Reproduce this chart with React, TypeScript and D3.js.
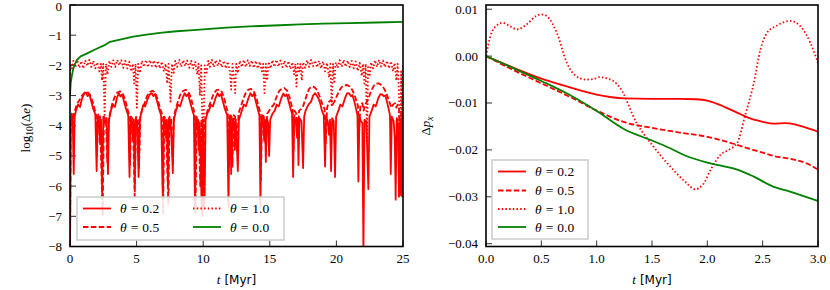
import React from 'react';
import * as d3 from 'd3';

// ---- left panel: log10(delta e) vs t ----
const eccTicksX = [0, 5, 10, 15, 20, 25];
const eccTicksY = [0, -1, -2, -3, -4, -5, -6, -7, -8];

// theta = 0.2 (solid red)
const eccTheta02: [number, number][] = [
  [0.0, -8.2], [0.06, -3.9], [0.14, -3.6], [0.2, -3.7], [0.28, -5.6], [0.35, -3.7], [0.45, -3.5], [0.6, -3.3], [0.75, -3.38], [0.9, -3.1], [1.05, -2.95], [1.2, -2.9], [1.32, -3.02], [1.45, -2.95], [1.6, -3.2], [1.75, -3.45], [1.9, -3.62], [2.0, -5.5], [2.08, -3.7], [2.18, -3.85], [2.26, -4.6], [2.33, -3.8], [2.42, -6.3], [2.5, -3.7], [2.62, -3.9], [2.75, -3.75], [2.85, -5.6], [2.93, -3.8],
  [3.07, -3.5], [3.22, -3.3], [3.37, -3.38], [3.52, -3.08], [3.67, -2.93], [3.79, -3.03], [3.92, -2.96], [4.07, -3.22], [4.22, -3.46], [4.37, -3.65], [4.47, -5.7], [4.55, -3.7], [4.65, -3.85], [4.73, -4.5], [4.79, -3.8], [4.86, -6.05], [4.94, -3.75], [5.05, -3.9], [5.15, -5.7], [5.24, -3.8], [5.34, -3.6],
  [5.49, -3.32], [5.64, -3.36], [5.84, -3.1], [5.99, -2.96], [6.14, -2.92], [6.26, -3.02], [6.39, -2.95], [6.54, -3.2], [6.69, -3.45], [6.84, -3.65], [6.97, -6.4], [7.05, -3.7], [7.15, -3.85], [7.22, -4.4], [7.28, -3.8], [7.35, -6.05], [7.43, -3.75], [7.55, -3.9], [7.64, -4.6], [7.72, -5.57], [7.8, -3.8],
  [7.96, -3.5], [8.11, -3.3], [8.26, -3.36], [8.46, -3.08], [8.61, -2.92], [8.73, -3.02], [8.86, -2.95], [9.01, -3.2], [9.16, -3.45], [9.3, -3.65], [9.38, -6.7], [9.46, -3.7], [9.58, -3.85], [9.66, -4.8], [9.73, -3.9], [9.82, -5.2], [9.88, -6.7], [9.95, -3.8], [10.02, -4.9], [10.1, -6.6], [10.18, -3.8], [10.3, -3.6],
  [10.43, -3.5], [10.58, -3.3], [10.73, -3.36], [10.93, -3.08], [11.08, -2.92], [11.2, -3.02], [11.33, -2.95], [11.48, -3.2], [11.63, -3.45], [11.8, -3.65], [11.9, -6.7], [11.98, -3.7], [12.05, -3.9], [12.1, -5.6], [12.18, -3.8], [12.3, -3.85], [12.38, -4.8], [12.45, -3.8], [12.6, -5.5], [12.68, -3.8],
  [12.9, -3.5], [13.05, -3.3], [13.2, -3.36], [13.4, -3.08], [13.55, -2.92], [13.67, -3.02], [13.8, -2.95], [13.95, -3.2], [14.1, -3.45], [14.22, -3.65], [14.3, -6.7], [14.38, -3.7], [14.5, -3.85], [14.58, -4.5], [14.64, -3.8], [14.7, -5.2], [14.78, -3.75], [14.87, -3.9], [14.95, -5.0], [15.03, -3.8], [15.2, -3.6],
  [15.37, -3.5], [15.52, -3.3], [15.67, -3.36], [15.87, -3.08], [16.02, -2.93], [16.14, -3.02], [16.27, -2.96], [16.42, -3.2], [16.57, -3.45], [16.67, -3.6], [16.75, -5.7], [16.83, -3.7], [16.95, -3.85], [17.05, -4.4], [17.1, -3.8], [17.15, -5.3], [17.23, -3.75], [17.38, -3.85], [17.5, -5.4], [17.58, -3.7],
  [17.7, -3.48], [17.9, -3.3], [18.1, -3.2], [18.25, -3.0], [18.4, -2.92], [18.52, -3.0], [18.65, -3.09], [18.78, -3.25], [18.9, -3.48], [19.05, -3.65], [19.15, -5.35], [19.23, -3.7], [19.35, -3.85], [19.45, -4.3], [19.52, -3.8], [19.6, -5.5], [19.68, -3.75], [19.8, -3.85], [19.9, -5.7], [19.98, -3.7],
  [20.15, -3.5], [20.3, -3.3], [20.45, -3.36], [20.65, -3.08], [20.8, -2.93], [20.95, -2.92], [21.08, -3.02], [21.2, -2.98], [21.35, -3.2], [21.48, -3.45], [21.58, -3.65], [21.65, -5.85], [21.73, -3.7], [21.85, -3.85], [21.95, -3.9], [22.03, -8.3], [22.11, -3.8], [22.25, -3.85], [22.4, -6.1], [22.48, -3.7],
  [22.65, -3.5], [22.8, -3.3], [22.95, -3.36], [23.15, -3.08], [23.3, -2.95], [23.43, -2.96], [23.55, -3.02], [23.68, -3.0], [23.82, -3.25], [23.95, -3.5], [24.02, -3.65], [24.08, -5.6], [24.16, -3.7], [24.3, -3.85], [24.38, -4.4], [24.45, -6.45], [24.53, -3.75], [24.62, -3.9], [24.7, -6.35], [24.78, -3.8], [24.84, -3.9], [24.9, -6.2], [24.96, -3.8], [25.0, -3.7],
];

// theta = 0.5 (dashed red)
const eccTheta05: [number, number][] = [
  [0.0, -8.2], [0.06, -4.2], [0.15, -3.9], [0.3, -3.6], [0.5, -3.3], [0.7, -3.15], [0.9, -3.0], [1.1, -2.9], [1.3, -2.88], [1.5, -2.98], [1.7, -3.2], [1.85, -3.45], [1.95, -3.6], [2.03, -5.0], [2.12, -3.6], [2.25, -3.7], [2.45, -7.0], [2.55, -3.7], [2.7, -3.8], [2.8, -5.2], [2.9, -3.8], [3.0, -3.6],
  [3.15, -3.3], [3.35, -3.05], [3.55, -2.9], [3.75, -2.86], [3.95, -2.92], [4.15, -3.15], [4.32, -3.45], [4.42, -3.6], [4.5, -5.3], [4.6, -3.7], [4.72, -3.8], [4.86, -6.35], [4.96, -3.7], [5.1, -3.8], [5.18, -5.4], [5.28, -3.7], [5.4, -3.5],
  [5.6, -3.25], [5.8, -3.0], [6.0, -2.88], [6.2, -2.84], [6.4, -2.9], [6.6, -3.15], [6.78, -3.45], [6.9, -3.6], [6.99, -6.9], [7.08, -3.7], [7.2, -3.8], [7.38, -6.6], [7.48, -3.7], [7.6, -3.8], [7.7, -5.0], [7.8, -3.7], [7.9, -3.5],
  [8.1, -3.2], [8.3, -2.95], [8.5, -2.84], [8.7, -2.81], [8.9, -2.88], [9.1, -3.1], [9.25, -3.4], [9.35, -3.6], [9.42, -6.9], [9.52, -3.7], [9.65, -3.85], [9.78, -6.0], [9.86, -3.8], [9.94, -7.0], [10.0, -3.8], [10.06, -6.8], [10.14, -3.8], [10.25, -3.6], [10.4, -3.4],
  [10.6, -3.15], [10.8, -2.92], [11.0, -2.82], [11.2, -2.8], [11.4, -2.88], [11.58, -3.1], [11.75, -3.4], [11.85, -3.55], [11.93, -5.4], [12.02, -3.6], [12.13, -3.7], [12.2, -5.35], [12.28, -3.65], [12.4, -3.7], [12.55, -4.9], [12.65, -3.6], [12.8, -3.4],
  [13.0, -3.12], [13.2, -2.9], [13.4, -2.8], [13.6, -2.78], [13.8, -2.86], [14.0, -3.08], [14.15, -3.35], [14.25, -3.5], [14.33, -5.8], [14.42, -3.6], [14.55, -3.7], [14.72, -4.8], [14.8, -3.6], [14.95, -3.5], [15.1, -3.4], [15.3, -3.3],
  [15.5, -3.05], [15.7, -2.85], [15.9, -2.77], [16.1, -2.75], [16.3, -2.84], [16.48, -3.05], [16.62, -3.3], [16.72, -3.45], [16.78, -4.8], [16.86, -3.5], [17.0, -3.6], [17.12, -4.3], [17.2, -3.5], [17.35, -3.45], [17.5, -3.35],
  [17.65, -3.15], [17.8, -2.95], [17.95, -2.78], [18.15, -2.7], [18.35, -2.72], [18.55, -2.82], [18.72, -3.0], [18.88, -3.2], [19.0, -3.35], [19.12, -3.45], [19.2, -4.6], [19.3, -3.4], [19.45, -3.2], [19.6, -3.15], [19.72, -3.3], [19.85, -3.2], [20.0, -3.05],
  [20.2, -2.85], [20.4, -2.72], [20.6, -2.66], [20.8, -2.65], [21.0, -2.7], [21.2, -2.82], [21.38, -3.0], [21.52, -3.2], [21.62, -3.35], [21.7, -4.3], [21.8, -3.3], [21.95, -3.25], [22.05, -3.5], [22.15, -3.3], [22.3, -3.2], [22.45, -3.05],
  [22.6, -2.85], [22.8, -2.68], [23.0, -2.6], [23.2, -2.6], [23.4, -2.66], [23.6, -2.78], [23.8, -2.98], [23.95, -3.18], [24.05, -3.3], [24.15, -3.4], [24.25, -3.3], [24.4, -3.25], [24.5, -3.4], [24.6, -3.3], [24.7, -3.4], [24.78, -6.3], [24.86, -3.5], [24.93, -6.4], [25.0, -3.6],
];

// theta = 1.0 (dotted red)
const eccTheta10: [number, number][] = [
  [0.0, -2.3], [0.05, -1.95], [0.15, -2.1], [0.25, -1.85], [0.4, -2.05], [0.55, -1.83], [0.7, -2.08], [0.85, -1.86], [1.0, -2.1], [1.15, -1.84], [1.3, -2.02], [1.45, -1.82], [1.6, -2.05], [1.75, -1.85], [1.9, -2.1], [2.05, -1.9], [2.2, -2.2], [2.32, -1.95], [2.4, -2.5], [2.5, -1.95], [2.6, -3.64], [2.7, -1.95], [2.82, -2.3], [2.95, -1.85],
  [3.1, -2.05], [3.25, -1.83], [3.4, -2.05], [3.55, -1.82], [3.7, -2.0], [3.85, -1.83], [4.0, -2.08], [4.15, -1.85], [4.3, -2.1], [4.45, -1.88], [4.6, -2.2], [4.72, -1.95], [4.82, -2.6], [4.92, -1.95], [5.02, -3.4], [5.12, -1.95], [5.25, -2.25], [5.4, -1.85],
  [5.55, -2.05], [5.7, -1.82], [5.85, -2.06], [6.0, -1.83], [6.15, -2.02], [6.3, -1.84], [6.45, -2.08], [6.6, -1.85], [6.75, -2.1], [6.9, -1.88], [7.05, -2.2], [7.18, -1.95], [7.3, -2.6], [7.4, -1.95], [7.55, -3.2], [7.65, -1.95], [7.78, -2.25], [7.9, -1.85],
  [8.05, -2.05], [8.2, -1.82], [8.35, -2.05], [8.5, -1.83], [8.65, -2.02], [8.8, -1.84], [8.95, -2.08], [9.1, -1.85], [9.25, -2.1], [9.4, -1.88], [9.55, -2.3], [9.65, -1.95], [9.75, -3.0], [9.85, -2.0], [9.95, -4.2], [10.0, -6.6], [10.05, -3.5], [10.12, -2.0], [10.25, -2.3], [10.38, -1.85],
  [10.5, -2.05], [10.65, -1.82], [10.8, -2.05], [10.95, -1.83], [11.1, -2.02], [11.25, -1.84], [11.4, -2.06], [11.55, -1.85], [11.7, -2.1], [11.85, -1.88], [12.0, -2.2], [12.1, -2.8], [12.2, -1.95], [12.3, -2.4], [12.4, -2.92], [12.48, -1.95], [12.6, -2.25], [12.75, -1.85],
  [12.9, -2.05], [13.05, -1.82], [13.2, -2.05], [13.35, -1.83], [13.5, -2.02], [13.65, -1.84], [13.8, -2.08], [13.95, -1.85], [14.1, -2.1], [14.25, -1.88], [14.4, -2.2], [14.5, -1.95], [14.6, -2.92], [14.7, -1.95], [14.8, -2.5], [14.92, -1.88],
  [15.05, -2.1], [15.2, -1.83], [15.35, -2.05], [15.5, -1.82], [15.65, -2.04], [15.8, -1.84], [15.95, -2.06], [16.1, -1.85], [16.25, -2.08], [16.4, -1.86], [16.55, -2.12], [16.7, -1.9], [16.82, -2.3], [16.92, -1.95], [17.0, -2.7], [17.1, -1.95], [17.2, -2.2], [17.3, -1.95], [17.4, -2.5], [17.5, -1.9],
  [17.65, -2.08], [17.8, -1.83], [17.95, -2.05], [18.1, -1.82], [18.25, -2.03], [18.4, -1.84], [18.55, -2.06], [18.7, -1.85], [18.85, -2.1], [19.0, -1.87], [19.15, -2.2], [19.3, -1.92], [19.45, -2.4], [19.55, -1.95], [19.65, -3.37], [19.75, -1.95], [19.85, -2.6], [19.95, -1.9],
  [20.1, -2.08], [20.25, -1.83], [20.4, -2.05], [20.55, -1.82], [20.7, -2.04], [20.85, -1.84], [21.0, -2.06], [21.15, -1.85], [21.3, -2.1], [21.45, -1.87], [21.6, -2.18], [21.75, -1.92], [21.9, -2.35], [22.0, -1.95], [22.1, -2.6], [22.2, -1.95], [22.3, -4.5], [22.38, -2.0], [22.5, -2.37], [22.6, -1.9],
  [22.75, -2.1], [22.9, -1.83], [23.05, -2.05], [23.2, -1.82], [23.35, -2.04], [23.5, -1.84], [23.65, -2.06], [23.8, -1.85], [23.95, -2.1], [24.1, -1.87], [24.25, -2.2], [24.38, -1.92], [24.5, -2.5], [24.6, -1.95], [24.7, -2.9], [24.8, -6.3], [24.86, -2.2], [24.93, -5.5], [25.0, -2.0],
];

// theta = 0.0 (green)
const eccTheta00: [number, number][] = [
  [0, -3.0], [0.05, -2.6], [0.12, -2.39], [0.25, -2.1], [0.5, -1.83], [0.8, -1.7], [1.25, -1.61], [2.0, -1.45], [2.6, -1.33], [3.0, -1.22],
  [4.0, -1.12], [4.75, -1.05], [5.75, -0.98], [6.75, -0.92], [8.0, -0.87], [9.25, -0.83], [10.5, -0.79], [11.75, -0.75], [13.5, -0.71],
  [15.75, -0.67], [17.25, -0.64], [19.0, -0.62], [21.0, -0.6], [23.0, -0.58], [25.0, -0.56],
];

// ---- right panel: delta p_x vs t ----
const momTicksX = [0, 0.5, 1, 1.5, 2, 2.5, 3];
const momTicksY = [0.01, 0, -0.01, -0.02, -0.03, -0.04];

const momTheta02: [number, number][] = [
  [0, 0], [0.25, -0.0025], [0.5, -0.0048], [0.75, -0.0066], [1.0, -0.0082], [1.25, -0.009], [1.5, -0.0091], [1.75, -0.0091],
  [1.9, -0.0092], [2.0, -0.0095], [2.1, -0.0103], [2.2, -0.0113], [2.3, -0.0124], [2.4, -0.0134], [2.5, -0.014], [2.6, -0.0144],
  [2.7, -0.0143], [2.8, -0.0146], [2.9, -0.0153], [3.0, -0.0161],
];
const momTheta05: [number, number][] = [
  [0, 0], [0.25, -0.003], [0.5, -0.0058], [0.75, -0.0086], [1.0, -0.0116], [1.25, -0.0141], [1.5, -0.0153], [1.75, -0.0163],
  [2.0, -0.0172], [2.25, -0.0188], [2.4, -0.0199], [2.5, -0.0206], [2.6, -0.0213], [2.75, -0.0219], [2.9, -0.0229], [3.0, -0.0242],
];
const momTheta10: [number, number][] = [
  [0, 0], [0.04, 0.0043], [0.1, 0.0066], [0.15, 0.0071], [0.2, 0.0066], [0.28, 0.0057], [0.37, 0.0068], [0.45, 0.0085], [0.5, 0.0089],
  [0.55, 0.0085], [0.64, 0.005], [0.73, -0.0014], [0.8, -0.004], [0.9, -0.005], [0.97, -0.0049], [1.03, -0.0045], [1.1, -0.0048],
  [1.15, -0.0053], [1.21, -0.0067], [1.36, -0.0142], [1.51, -0.0192], [1.66, -0.0234], [1.81, -0.027], [1.89, -0.0284], [1.96, -0.0274],
  [2.04, -0.0238], [2.12, -0.021], [2.2, -0.0199], [2.27, -0.0185], [2.34, -0.0128], [2.42, -0.0057], [2.48, 0.0014], [2.54, 0.005],
  [2.62, 0.0064], [2.75, 0.0075], [2.84, 0.0064], [2.93, 0.0029], [3.0, -0.0014],
];
const momTheta00: [number, number][] = [
  [0, 0], [0.25, -0.0026], [0.5, -0.0053], [0.75, -0.0082], [1.0, -0.0117], [1.25, -0.0156], [1.5, -0.018], [1.66, -0.0196],
  [1.81, -0.0213], [2.0, -0.0227], [2.15, -0.0235], [2.27, -0.0242], [2.42, -0.0257], [2.6, -0.0279], [2.72, -0.0287], [2.85, -0.0297], [3.0, -0.0309],
];

const thetaLabels = ['0.2', '0.5', '1.0', '0.0'];

const RED = '#ff0000';
const GREEN = '#008000';
const styles = [
  { color: RED, dash: undefined },
  { color: RED, dash: '5.5,2.4' },
  { color: RED, dash: '1.5,2.2' },
  { color: GREEN, dash: undefined },
];

const SERIF = "'Liberation Serif', 'DejaVu Serif', serif";
const SANS = "'DejaVu Sans', sans-serif";
const minus = (s: string) => s.replace('-', '\u2212');

type Box = { x0: number; x1: number; y0: number; y1: number };

const Axes = ({ box, x, y, xTicks, yTicks, xFmt, yFmt, id }: any) => (
  <g>
    <clipPath id={id}>
      <rect x={box.x0} y={box.y0} width={box.x1 - box.x0} height={box.y1 - box.y0} />
    </clipPath>
    {xTicks.map((t: number) => (
      <g key={'x' + t}>
        <line x1={x(t)} x2={x(t)} y1={box.y1} y2={box.y1 - 6} stroke="#333" strokeWidth={1} />
        <text x={x(t)} y={263} textAnchor="middle" style={{ fontFamily: SERIF, fontSize: 13 }}>{xFmt(t)}</text>
      </g>
    ))}
    {yTicks.map((t: number) => (
      <g key={'y' + t}>
        <line x1={box.x0} x2={box.x0 + 6} y1={y(t)} y2={y(t)} stroke="#333" strokeWidth={1} />
        <text x={box.x0 - 8} y={Math.max(y(t), 6.5)} dy="0.34em" textAnchor="end" style={{ fontFamily: SERIF, fontSize: 13 }}>{yFmt(t)}</text>
      </g>
    ))}
  </g>
);

const Frame = ({ box }: { box: Box }) => (
  <rect x={box.x0} y={box.y0} width={box.x1 - box.x0} height={box.y1 - box.y0} fill="none" stroke="#000" strokeWidth={1.6} />
);

const Legend = ({ x, y, w, h, items }: any) => (
  <g>
    <rect x={x} y={y} width={w} height={h} fill="#fff" fillOpacity={0.85} stroke="#cccccc" strokeWidth={1.5} />
    {items.map((it: any, i: number) => (
      <g key={i}>
        <line x1={it.lx} x2={it.lx + 28} y1={it.ly} y2={it.ly} stroke={styles[it.s].color} strokeWidth={1.8} strokeDasharray={styles[it.s].dash} />
        <text x={it.lx + 37} y={it.ly} dy="0.34em" style={{ fontFamily: SERIF, fontSize: 13.5 }}>
          <tspan fontStyle="italic">θ</tspan>
          <tspan dx={4}>=</tspan>
          <tspan dx={4}>{thetaLabels[it.s]}</tspan>
        </text>
      </g>
    ))}
  </g>
);

export default function App() {
  const L: Box = { x0: 70, x1: 403, y0: 5, y1: 246.5 };
  const R: Box = { x0: 486, x1: 818, y0: 5, y1: 246.5 };

  const lx = d3.scaleLinear().domain([0, 25]).range([L.x0, L.x1]);
  const ly = d3.scaleLinear().domain([-8, 0]).range([L.y1, L.y0]);
  const rx = d3.scaleLinear().domain([0, 3]).range([R.x0, R.x1]);
  const ry = d3.scaleLinear().domain([-0.0406, 0.0109]).range([R.y1, R.y0]);

  const lLine = d3.line<[number, number]>().x((d) => lx(d[0])).y((d) => ly(d[1]));
  const rLine = d3
    .line<[number, number]>()
    .x((d) => rx(d[0]))
    .y((d) => ry(d[1]))
    .curve(d3.curveMonotoneX);

  const eccSeries = [eccTheta02, eccTheta05, eccTheta10, eccTheta00];
  const momSeries = [momTheta02, momTheta05, momTheta10, momTheta00];

  return (
    <svg width={830} height={290} style={{ display: 'block', position: 'absolute', left: 0, top: 0 }}>
      <rect width={830} height={290} fill="#fff" />

      {/* left panel */}
      <Axes box={L} x={lx} y={ly} xTicks={eccTicksX} yTicks={eccTicksY} id="clipL"
        xFmt={(t: number) => String(t)} yFmt={(t: number) => minus(String(t))} />
      <g clipPath="url(#clipL)">
        {eccSeries.map((s, i) => (
          <path key={i} d={lLine(s) || ''} fill="none" stroke={styles[i].color}
            strokeWidth={1.8} strokeDasharray={styles[i].dash} strokeLinejoin="round" />
        ))}
      </g>
      <Legend x={77} y={197} w={207} h={43} items={[
        { s: 0, lx: 83, ly: 208.5 },
        { s: 1, lx: 83, ly: 227 },
        { s: 2, lx: 193, ly: 208.5 },
        { s: 3, lx: 193, ly: 227 },
      ]} />
      <Frame box={L} />
      <text transform="translate(30,128) rotate(-90)" textAnchor="middle" style={{ fontFamily: SERIF, fontSize: 13 }}>
        log<tspan dy={3} fontSize={9.5}>10</tspan><tspan dy={-3}>(Δ</tspan><tspan fontStyle="italic">e</tspan>)
      </text>
      <text x={236.5} y={284} textAnchor="middle" style={{ fontSize: 12 }}>
        <tspan style={{ fontFamily: SERIF, fontStyle: 'italic', fontSize: 13 }}>t</tspan>
        <tspan style={{ fontFamily: SANS }} dx={4}>[Myr]</tspan>
      </text>

      {/* right panel */}
      <Axes box={R} x={rx} y={ry} xTicks={momTicksX} yTicks={momTicksY} id="clipR"
        xFmt={d3.format('.1f')} yFmt={(t: number) => minus(d3.format('.2f')(t))} />
      <g clipPath="url(#clipR)">
        {momSeries.map((s, i) => (
          <path key={i} d={rLine(s) || ''} fill="none" stroke={styles[i].color}
            strokeWidth={1.8} strokeDasharray={styles[i].dash} />
        ))}
      </g>
      <Legend x={492} y={160} w={96} h={79} items={[
        { s: 0, lx: 498, ly: 171.5 },
        { s: 1, lx: 498, ly: 190.5 },
        { s: 2, lx: 498, ly: 209 },
        { s: 3, lx: 498, ly: 227 },
      ]} />
      <Frame box={R} />
      <text transform="translate(430,126) rotate(-90)" textAnchor="middle" style={{ fontFamily: SERIF, fontSize: 13 }}>
        Δ<tspan fontStyle="italic">p</tspan><tspan dy={3} fontSize={9.5} fontStyle="italic">x</tspan>
      </text>
      <text x={652} y={284} textAnchor="middle" style={{ fontSize: 12 }}>
        <tspan style={{ fontFamily: SERIF, fontStyle: 'italic', fontSize: 13 }}>t</tspan>
        <tspan style={{ fontFamily: SANS }} dx={4}>[Myr]</tspan>
      </text>
    </svg>
  );
}
